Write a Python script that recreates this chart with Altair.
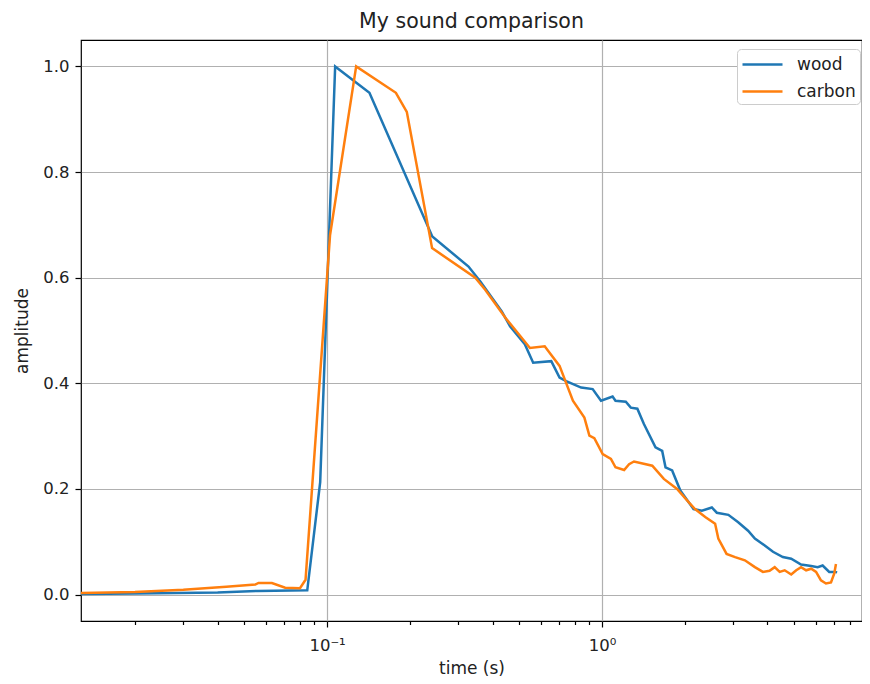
import altair as alt
import pandas as pd

# ---- data ----
wood_t = [0.01, 0.02, 0.04, 0.056, 0.0847, 0.0944, 0.107, 0.1426, 0.2414, 0.327,
          0.361, 0.432, 0.463, 0.524, 0.562, 0.654, 0.701, 0.741, 0.840, 0.925,
          0.992, 1.093, 1.12, 1.221, 1.273, 1.345, 1.421, 1.566, 1.656, 1.703,
          1.800, 1.928, 2.01, 2.153, 2.31, 2.51, 2.617, 2.883, 3.13, 3.40,
          3.60, 3.91, 4.19, 4.55, 4.88, 5.30, 5.77, 6.09, 6.35, 6.71, 7.04, 7.17]
wood_a = [0.001, 0.002, 0.004, 0.007, 0.008, 0.213, 1.0, 0.950, 0.678, 0.621,
          0.593, 0.536, 0.508, 0.474, 0.439, 0.442, 0.411, 0.404, 0.392, 0.389,
          0.367, 0.375, 0.367, 0.365, 0.354, 0.352, 0.323, 0.279, 0.272, 0.241,
          0.235, 0.197, 0.184, 0.162, 0.159, 0.165, 0.155, 0.151, 0.137, 0.121,
          0.106, 0.093, 0.081, 0.071, 0.068, 0.057, 0.054, 0.052, 0.055, 0.043, 0.043, 0.042]

carbon_t = [0.01, 0.02, 0.03, 0.043, 0.0548, 0.0563, 0.063, 0.0704, 0.0797, 0.0835,
            0.1025, 0.1276, 0.178, 0.195, 0.241, 0.346, 0.376, 0.450, 0.547, 0.619,
            0.701, 0.784, 0.863, 0.900, 0.938, 1.006, 1.078, 1.12, 1.204, 1.255,
            1.308, 1.524, 1.679, 1.876, 2.066, 2.18, 2.375, 2.58, 2.65, 2.84,
            3.05, 3.31, 3.60, 3.85, 4.07, 4.25, 4.43, 4.62, 4.88, 5.09,
            5.30, 5.53, 5.77, 6.01, 6.26, 6.53, 6.81, 7.00, 7.10]
carbon_a = [0.002, 0.005, 0.009, 0.015, 0.019, 0.022, 0.022, 0.013, 0.012, 0.028,
            0.68, 1.0, 0.950, 0.914, 0.656, 0.600, 0.577, 0.521, 0.467, 0.470,
            0.433, 0.367, 0.335, 0.301, 0.296, 0.266, 0.257, 0.241, 0.236, 0.247,
            0.252, 0.244, 0.219, 0.200, 0.175, 0.162, 0.147, 0.134, 0.106, 0.077,
            0.071, 0.065, 0.052, 0.043, 0.045, 0.052, 0.043, 0.046, 0.038, 0.046,
            0.052, 0.046, 0.049, 0.043, 0.027, 0.021, 0.023, 0.040, 0.058]

series_names = ["wood", "carbon"]
series_colors = ["#1f77b4", "#ff7f0e"]

x_domain = [0.01273, 8.83]
y_domain = [-0.05, 1.05]
x_tick_values = [0.02, 0.03, 0.04, 0.05, 0.06, 0.07, 0.08, 0.09, 0.1,
                 0.2, 0.3, 0.4, 0.5, 0.6, 0.7, 0.8, 0.9, 1,
                 2, 3, 4, 5, 6, 7, 8]
y_tick_values = [0.0, 0.2, 0.4, 0.6, 0.8, 1.0]

rows = []
for i, (t, a) in enumerate(zip(wood_t, wood_a)):
    rows.append({"series": "wood", "time": t, "amp": a, "order": i})
for i, (t, a) in enumerate(zip(carbon_t, carbon_a)):
    rows.append({"series": "carbon", "time": t, "amp": a, "order": i})
df = pd.DataFrame(rows)

FONT = "DejaVu Sans"
major_test = "datum.value == 0.1 || datum.value == 1"

chart = alt.Chart(df).mark_line(strokeWidth=2.5, clip=True).encode(
    x=alt.X("time:Q",
            scale=alt.Scale(type="log", domain=x_domain, nice=False),
            axis=alt.Axis(
                title="time (s)",
                values=x_tick_values,
                labelExpr="datum.value == 0.1 ? '10⁻¹' : (datum.value == 1 ? '10⁰' : '')",
                labelOverlap=False,
                labelFlush=False,
                gridOpacity={"condition": {"test": major_test, "value": 1}, "value": 0},
                tickSize={"condition": {"test": major_test, "value": 6}, "value": 3.5},
                labelPadding=10,
                titleY=47,
                titleBaseline="middle",
            )),
    y=alt.Y("amp:Q",
            scale=alt.Scale(domain=y_domain, nice=False, zero=False),
            axis=alt.Axis(
                title="amplitude",
                values=y_tick_values,
                format=".1f",
                tickSize=6,
                labelPadding=6,
                titleX=-59,
                titleBaseline="middle",
            )),
    color=alt.Color("series:N",
                    scale=alt.Scale(domain=series_names, range=series_colors),
                    legend=alt.Legend(
                        title=None,
                        orient="none",
                        legendX=656,
                        legendY=9,
                        symbolType="M-1,0H3",
                        symbolSize=400,
                        symbolStrokeWidth=2.5,
                        labelOffset=33,
                        rowPadding=7,
                        padding=4,
                        fillColor="white",
                        strokeColor="#cccccc",
                        cornerRadius=4,
                        labelFontSize=17,
                        labelFont=FONT,
                        labelColor="#222222",
                    )),
    order="order:Q",
).properties(
    width=854,
    height=668,
    title=alt.TitleParams("My sound comparison", fontSize=20.5, font=FONT,
                          fontWeight="normal", color="#222222",
                          anchor="middle", offset=8),
    autosize=alt.AutoSizeParams(type="fit", contains="padding"),
    padding={"left": 5, "top": 3, "right": 0, "bottom": 0},
    background="white",
).configure_view(
    stroke="#000000",
    strokeWidth=1.2,
).configure_axis(
    domain=False,
    grid=True,
    gridColor="#b0b0b0",
    gridWidth=1.2,
    tickColor="#000000",
    tickWidth=1.2,
    labelFont=FONT,
    labelFontSize=16.5,
    labelColor="#222222",
    titleFont=FONT,
    titleFontSize=17,
    titleFontWeight="normal",
    titleColor="#222222",
)

chart.save("out.html", embed_options={"renderer": "svg", "actions": False})
